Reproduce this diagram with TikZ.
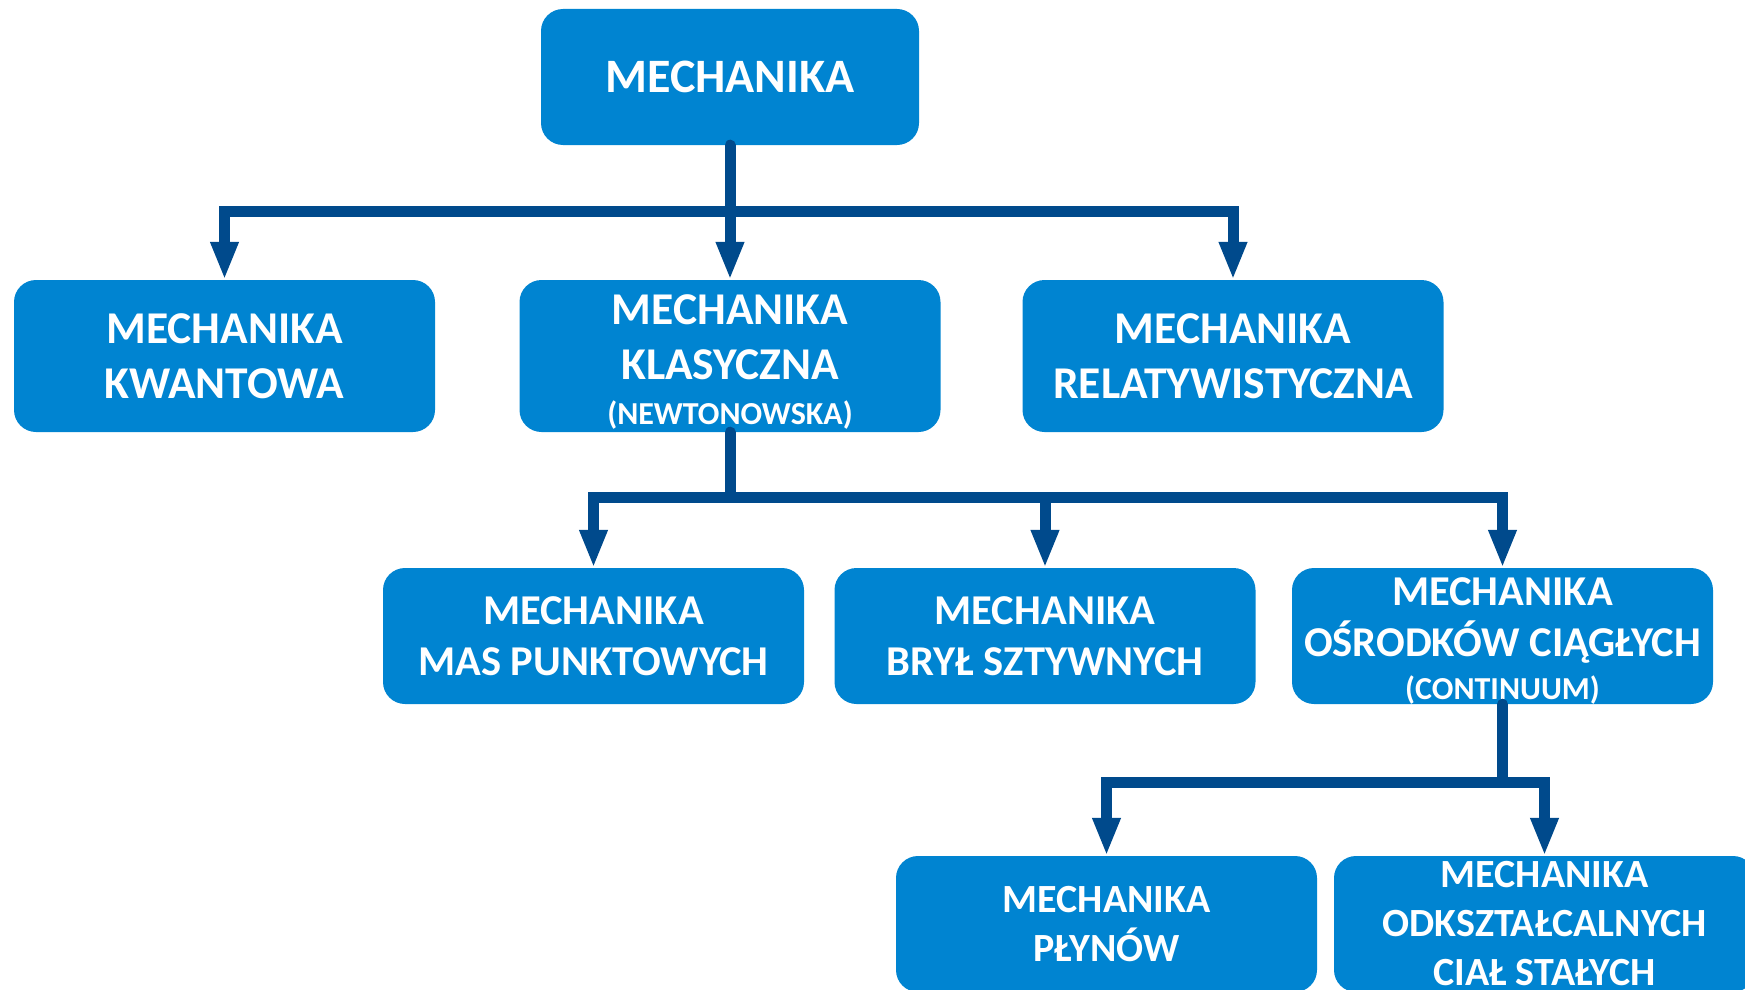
\documentclass[tikz,border=0pt]{standalone}
\usepackage{fontspec}
\setmainfont{Carlito}
\usetikzlibrary{arrows.meta}
\definecolor{boxblue}{RGB}{0,132,209}
\definecolor{linkblue}{RGB}{0,74,140}
\tikzset{
  box/.style n args={2}{fill=boxblue, rounded corners=22pt, minimum width=421pt, minimum height=136pt,
    text=white, align=center, inner sep=0pt, font=\fontsize{#1}{#2}\selectfont\bfseries},
  bar/.style={draw=linkblue, line width=11pt, line cap=round},
  link/.style={draw=linkblue, line width=11pt, -{Triangle[width=26pt,length=38pt]}}
}
\newcommand{\subtxt}[1]{{\fontsize{32}{38}\selectfont #1}}
\begin{document}
\begin{tikzpicture}[x=1pt,y=-1pt]
  \useasboundingbox (0,0) rectangle (1745,990);
  % boxes
  \node[box={48}{58}, minimum width=378pt] (mech) at (730,77) {MECHANIKA};
  \node[box={45.5}{55}, minimum height=152pt] (kwant) at (224.5,356) {MECHANIKA\\KWANTOWA};
  \node[box={45.5}{55}, minimum height=152pt] (klas) at (730,356) {\rule{0pt}{41pt}MECHANIKA\\KLASYCZNA\\[-10pt]\subtxt{(NEWTONOWSKA)}};
  \node[box={45.5}{55}, minimum height=152pt] (rel) at (1233,356) {MECHANIKA\\RELATYWISTYCZNA};
  \node[box={42.5}{51}] (mas) at (593.5,636) {MECHANIKA\\MAS PUNKTOWYCH};
  \node[box={42.5}{51}] (bryl) at (1045,636) {MECHANIKA\\BRYŁ SZTYWNYCH};
  \node[box={42.5}{51}] (osrod) at (1502.5,636) {\rule{0pt}{37pt}MECHANIKA\\OŚRODKÓW CIĄGŁYCH\\[-8pt]\subtxt{(CONTINUUM)}};
  \node[box={40}{49}] (plyn) at (1106.5,924) {MECHANIKA\\PŁYNÓW};
  \node[box={40}{49}] (odksz) at (1544.5,924) {MECHANIKA\\ODKSZTAŁCALNYCH\\CIAŁ STAŁYCH};
  % connectors
  \coordinate (j1) at (730,211);
  \coordinate (j2) at (730,497);
  \coordinate (j3) at (1502.5,782);
  \draw[bar] (mech.south) -- (j1);
  \draw[link] (j1) -| (kwant.north);
  \draw[link] (j1) -| (rel.north);
  \draw[link] (j1) -- (klas.north);
  \draw[bar] (klas.south) -- (j2);
  \draw[link] (j2) -| (mas.north);
  \draw[link] (j2) -| (bryl.north);
  \draw[link] (j2) -| (osrod.north);
  \draw[bar] (osrod.south) -- (j3);
  \draw[link] (j3) -| (plyn.north);
  \draw[link] (j3) -| (odksz.north);
\end{tikzpicture}
\end{document}
